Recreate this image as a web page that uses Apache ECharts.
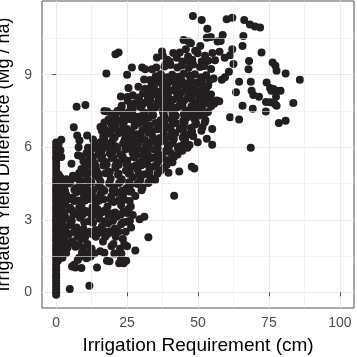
<!DOCTYPE html>
<html>
<head>
<meta charset="utf-8">
<script src="https://cdn.jsdelivr.net/npm/echarts@6/dist/echarts.min.js"></script>
<style>
  html, body { margin: 0; padding: 0; background: #fff; }
  #chart { width: 357px; height: 357px; }
</style>
</head>
<body>
<div id="chart"></div>
<script>
// tick breaks (ggplot style: major + minor)
const xBreaks = [0, 25, 50, 75, 100];
const xMinorBreaks = [12.5, 37.5, 62.5, 87.5];
const yBreaks = [0, 3, 6, 9];
const yMinorBreaks = [1.5, 4.5, 7.5, 10.5];

// fields with no irrigation requirement (x = 0)
const zeroIrrigationYield = [-0.1, 0.0, 0.12, 0.25, 0.38, 0.5, 0.62, 0.75, 0.9, 1.02, 1.15, 1.3,
  1.42, 1.55, 1.7, 1.82, 1.95, 2.1, 2.22, 2.35, 2.5, 2.62, 2.75, 2.9, 3.02, 3.15, 3.3, 3.42,
  3.55, 3.7, 3.82, 3.95, 4.1, 4.22, 4.35, 4.5, 4.62, 4.75, 4.9, 5.05, 5.2, 5.35, 5.5, 5.62,
  5.78, 5.9, 6.05, 6.2];

// [irrigation cm, yield diff Mg/ha]
const lowIrrigation = [
  [1.2, 1.5], [1.8, 2.0], [1.0, 2.4], [1.6, 2.8], [0.9, 3.2], [1.8, 3.5], [1.1, 3.9], [1.7, 4.2],
  [1.0, 4.5], [1.5, 4.75], [1.8, 5.6], [1.5, 5.87], [1.8, 6.31], [0.8, 6.1], [2.6, 1.7], [2.8, 2.5],
  [2.5, 3.3], [2.7, 3.8], [4.8, 0.14], [11.7, 0.27],
  [0.6, 1.3], [1.4, 1.92], [2.2, 2.28], [0.7, 2.68], [2.0, 3.02], [1.3, 3.45], [2.3, 3.95], [0.6, 4.28],
  [2.1, 4.46], [0.9, 4.86], [2.0, 2.7], [3.3, 2.55], [3.8, 1.95], [0.5, 3.75], [3.1, 3.62]
];

const mainCloud = [
  // y 1 - 2.5
  [2.2, 1.43], [4.0, 1.84], [6.3, 1.14], [6.8, 1.88], [8.1, 1.43], [9.8, 1.84], [5.6, 1.07], [6.8, 1.03],
  [8.9, 1.0], [7.6, 1.34], [10.7, 1.41], [12.1, 1.48], [14.4, 1.03], [17.9, 1.3], [18.8, 1.28],
  [22.2, 1.2], [23.8, 1.2], [24.7, 1.3], [22.9, 1.41], [27.9, 1.73], [32.5, 2.28],
  [3.0, 2.2], [4.5, 2.4], [5.5, 2.1], [7.5, 2.3], [9.0, 2.2], [11.0, 2.0], [12.5, 1.8], [14.0, 2.3],
  [15.5, 1.7], [16.5, 2.1], [18.0, 2.4], [19.5, 1.9], [21.0, 2.3], [22.5, 1.8], [23.5, 2.2],
  [24.5, 2.5], [25.0, 1.9], [20.5, 1.6], [13.5, 1.6], [10.0, 2.5],
  [3.5, 1.62], [9.1, 1.66], [11.3, 1.6], [17.0, 1.64], [23.0, 1.6],
  [2.9, 1.98], [6.2, 2.02], [8.0, 1.96], [10.2, 2.28], [17.3, 2.3], [20.2, 2.0], [24.0, 1.98],
  [3.6, 2.46], [6.3, 2.5], [8.6, 2.42], [12.8, 2.4], [15.0, 2.45], [16.9, 2.52], [20.0, 2.46], [22.0, 2.5],
  // y 2.5 - 3.5
  [2.5, 2.75], [3.6, 3.05], [4.9, 2.78], [6.1, 3.22], [7.2, 2.68], [8.4, 3.08], [9.6, 2.62], [10.4, 3.36],
  [11.7, 2.94], [12.6, 3.18], [13.9, 2.58], [15.2, 3.04], [16.1, 2.72], [17.2, 3.38], [18.3, 2.86],
  [19.4, 3.26], [20.7, 2.64], [21.3, 3.12], [22.9, 2.81], [23.7, 3.34], [24.9, 2.92], [25.6, 3.46],
  [26.4, 2.68], [29.4, 3.02], [31.1, 3.13], [5.3, 3.42], [14.6, 3.44], [8.1, 3.5], [18.9, 2.52],
  [11.9, 2.5], [3.0, 3.3],
  [2.0, 2.92], [5.5, 2.96], [9.9, 2.9], [13.0, 2.88], [17.2, 2.94], [20.0, 2.96], [23.6, 2.9], [26.0, 2.96],
  [7.4, 3.3], [9.4, 3.22], [11.5, 3.3], [13.9, 3.22], [16.0, 3.3], [18.5, 3.2], [20.8, 3.3], [22.8, 3.22],
  [25.0, 3.28], [27.0, 3.2],
  // y 3.5 - 4.5
  [2.3, 3.62], [4.9, 3.5], [6.4, 3.78], [8.9, 3.58], [10.2, 3.8], [12.8, 3.52], [14.0, 3.7], [16.7, 3.85],
  [18.1, 3.55], [20.2, 3.74], [22.9, 3.6], [24.0, 3.83], [26.3, 3.55],
  [3.5, 4.05], [5.8, 3.92], [7.3, 4.15], [9.8, 3.98], [11.3, 4.1], [13.2, 3.94], [15.6, 4.06], [17.0, 4.2],
  [19.4, 3.96], [21.2, 4.12], [23.5, 3.97], [25.4, 4.18], [27.9, 3.98], [41.6, 3.99],
  [2.7, 4.36], [4.4, 4.5], [6.9, 4.3], [8.3, 4.46], [10.6, 4.34], [12.4, 4.55], [14.9, 4.38], [16.2, 4.28],
  [18.7, 4.5], [20.5, 4.36], [22.2, 4.52], [24.8, 4.3], [26.1, 4.44], [28.6, 4.48], [30.4, 4.32], [32.5, 4.52],
  // y 4.5 - 5.5
  [3.6, 4.68], [5.9, 4.82], [7.2, 4.72], [9.6, 4.9], [11.1, 4.66], [13.7, 4.84], [15.0, 4.74], [17.4, 4.92],
  [19.2, 4.7], [21.8, 4.86], [23.1, 4.68], [25.6, 4.9], [27.0, 4.76], [29.7, 4.7], [31.2, 4.88], [33.4, 4.72],
  [34.9, 4.64],
  [8.9, 5.1], [10.4, 5.02], [12.9, 5.2], [14.2, 5.06], [16.6, 5.24], [18.4, 5.0], [20.9, 5.14], [22.1, 5.28],
  [24.6, 5.04], [26.4, 5.18], [28.7, 5.08], [30.1, 5.26], [32.9, 5.06], [34.5, 5.2], [36.8, 5.04], [38.1, 5.16],
  [43.4, 5.0],
  [5.4, 5.32], [9.6, 5.42], [11.8, 5.5], [13.4, 5.36], [15.9, 5.52], [17.2, 5.4], [19.6, 5.56], [21.5, 5.38],
  [23.8, 5.5], [25.1, 5.44], [27.7, 5.58], [29.4, 5.36], [31.6, 5.48], [33.3, 5.54], [35.9, 5.4], [37.1, 5.52],
  [39.4, 5.46], [41.0, 5.38], [47.8, 5.19], [48.7, 5.12],
  // y 5.5 - 6.5
  [7.7, 5.67], [10.7, 5.76], [12.1, 5.88], [14.9, 5.72], [16.2, 5.9], [18.9, 5.74], [20.1, 5.86], [22.6, 5.7],
  [24.4, 5.92], [26.9, 5.78], [28.1, 5.7], [30.6, 5.88], [32.3, 5.74], [34.8, 5.9], [36.0, 5.72], [38.6, 5.84],
  [40.4, 5.76], [42.8, 5.7], [44.5, 5.86],
  [7.9, 6.0], [13.4, 6.1], [15.7, 6.22], [17.0, 6.06], [19.5, 6.2], [21.0, 6.04], [23.6, 6.16], [25.0, 6.26],
  [27.4, 6.08], [29.1, 6.2], [31.5, 6.02], [33.0, 6.18], [35.6, 6.1], [37.0, 6.24], [39.4, 6.06], [41.1, 6.18],
  [43.6, 6.04], [45.2, 6.2], [47.0, 6.09], [49.9, 6.21], [55.0, 6.1],
  [7.4, 6.49], [8.2, 6.28], [10.9, 6.49], [16.6, 6.44], [18.1, 6.56], [20.6, 6.4], [22.0, 6.58], [24.5, 6.46],
  [26.0, 6.36], [28.6, 6.54], [30.0, 6.42], [32.5, 6.6], [34.0, 6.44], [36.6, 6.38], [38.0, 6.56], [40.5, 6.44],
  [42.0, 6.58], [44.6, 6.4], [46.1, 6.52], [48.3, 6.46], [53.1, 6.35],
  // y 6.5 - 7.5
  [6.2, 6.83], [15.6, 6.84], [17.1, 6.74], [19.6, 6.92], [21.0, 6.8], [23.5, 6.96], [25.0, 6.76], [27.6, 6.88],
  [29.0, 6.98], [31.5, 6.78], [33.0, 6.9], [35.6, 6.74], [37.0, 6.94], [39.5, 6.82], [41.0, 6.96], [43.6, 6.78],
  [45.0, 6.9], [47.5, 6.8], [49.0, 6.94], [51.6, 6.84], [55.0, 6.76],
  [18.4, 7.14], [20.9, 7.24], [22.3, 7.1], [24.8, 7.3], [26.2, 7.16], [28.8, 7.26], [30.2, 7.08], [32.7, 7.22],
  [34.2, 7.32], [36.8, 7.12], [38.2, 7.26], [40.7, 7.16], [42.2, 7.3], [44.8, 7.1], [46.2, 7.24], [48.7, 7.18],
  [50.2, 7.3], [52.6, 7.12],
  [17.0, 7.5], [18.0, 7.48], [21.6, 7.5], [23.0, 7.62], [25.6, 7.46], [27.0, 7.58], [29.6, 7.66], [31.0, 7.44],
  [33.5, 7.56], [35.0, 7.64], [37.6, 7.48], [39.0, 7.6], [41.5, 7.5], [43.0, 7.66], [45.6, 7.52], [47.0, 7.44],
  [49.5, 7.6], [51.0, 7.54], [53.5, 7.46],
  // y 7.5 - 8.5
  [7.2, 7.68], [10.3, 7.75], [25.2, 7.92], [27.7, 7.82], [29.2, 7.98], [31.7, 7.86], [33.2, 7.96], [35.7, 7.84],
  [37.2, 8.0], [39.7, 7.88], [41.2, 7.96], [43.7, 7.82], [45.2, 7.94], [47.7, 8.0], [49.2, 7.86], [51.7, 7.92],
  [53.2, 7.84], [54.3, 7.97], [55.7, 7.8], [56.6, 7.93], [57.5, 7.9],
  [22.8, 8.1], [27.0, 8.15], [30.6, 8.22], [32.2, 8.32], [34.6, 8.18], [36.2, 8.3], [38.6, 8.2], [40.2, 8.34],
  [42.6, 8.22], [44.2, 8.28], [46.6, 8.36], [48.2, 8.2], [50.6, 8.3], [52.2, 8.24], [54.6, 8.18],
  [25.5, 8.45], [29.0, 8.5], [33.6, 8.58], [35.2, 8.66], [37.6, 8.54], [39.2, 8.62], [41.6, 8.7], [43.2, 8.56],
  [45.6, 8.64], [47.2, 8.52], [49.6, 8.68], [51.2, 8.6], [53.6, 8.55],
  // y 8.5 - 9.5
  [31.0, 8.8], [35.1, 8.94], [36.9, 9.02], [39.1, 8.9], [40.9, 9.0], [43.1, 8.92], [44.9, 9.04], [47.1, 8.96],
  [48.9, 9.02], [51.1, 8.9], [52.9, 8.98], [55.5, 8.84], [58.4, 8.79], [59.5, 8.9],
  [17.7, 9.05], [25.0, 9.0], [26.7, 9.3], [30.3, 9.3], [31.4, 9.23], [33.8, 9.23], [35.3, 9.3], [38.2, 9.34],
  [40.3, 9.4], [42.7, 9.3], [44.3, 9.38], [46.7, 9.28], [48.3, 9.42], [50.7, 9.32], [52.3, 9.36], [54.6, 9.24],
  [60.9, 9.12]
];

// points filling the densest part of the cloud
const denseCore = [
  [4.2, 3.84], [7.7, 3.8], [11.8, 3.86], [15.0, 3.79], [19.2, 3.85], [22.1, 3.81], [25.9, 3.78],
  [3.1, 4.2], [6.4, 4.24], [9.2, 4.18], [13.1, 4.23], [16.0, 4.17], [19.9, 4.22], [23.2, 4.2], [26.5, 4.16], [30.1, 4.22],
  [5.0, 4.56], [8.8, 4.6], [11.7, 4.54], [15.6, 4.58], [18.8, 4.53], [22.8, 4.6], [25.7, 4.55], [29.5, 4.58], [32.6, 4.56],
  [8.1, 4.93], [11.8, 4.95], [14.9, 4.9], [18.9, 4.96], [22.0, 4.9], [26.0, 4.95], [29.1, 4.9], [32.8, 4.94], [35.7, 4.9], [39.6, 4.95],
  [10.6, 5.28], [13.8, 5.24], [17.8, 5.3], [20.9, 5.25], [24.9, 5.29], [28.0, 5.24], [32.1, 5.3], [35.2, 5.25], [39.0, 5.28],
  [9.0, 5.62], [13.0, 5.6], [16.2, 5.64], [20.1, 5.58], [23.4, 5.63], [27.3, 5.6], [30.4, 5.64], [34.4, 5.58], [37.5, 5.62], [41.5, 5.6],
  [11.2, 5.98], [14.4, 5.95], [18.4, 6.0], [21.5, 5.96], [25.5, 6.0], [28.7, 5.95], [32.6, 5.99], [35.8, 5.96], [39.7, 6.0], [42.9, 5.96], [46.3, 5.98],
  [13.0, 6.32], [17.0, 6.3], [20.1, 6.34], [24.1, 6.3], [27.3, 6.34], [31.3, 6.3], [34.4, 6.33], [38.4, 6.3], [41.5, 6.34], [45.5, 6.3],
  [16.1, 6.68], [19.3, 6.66], [23.3, 6.7], [26.5, 6.65], [30.4, 6.7], [33.6, 6.66], [37.6, 6.7], [40.7, 6.65], [44.7, 6.7], [47.9, 6.66], [51.2, 6.68],
  [17.0, 7.02], [20.7, 7.0], [23.9, 7.04], [27.9, 7.0], [31.1, 7.04], [35.0, 7.0], [38.2, 7.03], [42.2, 7.0], [45.3, 7.04], [49.3, 7.0], [52.4, 7.03],
  [19.6, 7.38], [23.6, 7.36], [26.8, 7.4], [30.7, 7.36], [33.9, 7.4], [37.9, 7.36], [41.0, 7.39], [45.0, 7.36], [48.2, 7.4], [52.2, 7.36],
  [23.1, 7.72], [26.3, 7.7], [30.3, 7.74], [33.4, 7.7], [37.4, 7.73], [40.6, 7.7], [44.5, 7.74], [47.7, 7.7], [51.7, 7.73], [54.6, 7.7],
  [25.1, 8.08], [29.1, 8.06], [32.3, 8.1], [36.2, 8.06], [39.4, 8.1], [43.4, 8.06], [46.5, 8.09], [50.5, 8.06], [53.4, 8.1],
  [31.4, 8.42], [34.6, 8.4], [38.6, 8.44], [41.7, 8.4], [45.7, 8.43], [48.9, 8.4], [52.8, 8.42],
  [33.1, 8.78], [37.1, 8.76], [40.3, 8.8], [44.2, 8.76], [47.4, 8.8], [51.4, 8.76], [54.2, 8.78]
];

const highYield = [
  [20.9, 9.85], [22.0, 9.92], [35.5, 9.71], [37.6, 9.78], [37.3, 9.96], [40.0, 9.55], [42.5, 9.7],
  [44.5, 9.55], [46.5, 9.75], [49.0, 9.99], [49.9, 9.89], [52.5, 9.78], [56.0, 9.6], [62.5, 9.44],
  [61.3, 9.81], [62.1, 10.05], [50.8, 10.19], [44.9, 10.44], [46.7, 10.37], [53.1, 10.53], [54.5, 10.56],
  [56.9, 10.37], [58.0, 10.4], [58.7, 10.64], [65.7, 10.19], [66.0, 10.6], [47.5, 10.3],
  [39.2, 9.62], [41.3, 9.9], [43.6, 9.92], [45.7, 10.05], [48.0, 9.62], [51.3, 9.55], [53.6, 9.58],
  [55.1, 9.9], [57.6, 9.95], [59.4, 9.7], [38.6, 9.45], [47.0, 9.5],
  [48.2, 11.43], [51.3, 11.26], [53.3, 10.9], [60.1, 11.3], [62.1, 11.36], [66.3, 11.26], [68.3, 11.08],
  [70.1, 11.0], [71.9, 10.95]
];

const highIrrigation = [
  [61.3, 7.24], [64.5, 7.15], [65.7, 7.72], [69.3, 7.59], [64.5, 8.71], [63.4, 8.27], [68.6, 8.71],
  [68.9, 8.34], [69.5, 8.16], [71.5, 8.09], [67.8, 9.23], [68.0, 9.57], [72.4, 9.92], [74.2, 8.68],
  [75.4, 8.45], [75.9, 8.34], [76.6, 8.41], [77.7, 8.34], [79.1, 8.34], [76.3, 9.51], [77.3, 9.37],
  [77.7, 9.16], [80.9, 9.05], [85.9, 8.79], [74.0, 7.87], [75.4, 7.86], [77.1, 7.79], [77.7, 7.72],
  [73.9, 7.48], [77.5, 8.09], [83.6, 7.83], [78.5, 7.0], [80.9, 7.1], [68.6, 5.98]
];

const allPoints = zeroIrrigationYield.map(y => [0, y])
  .concat(lowIrrigation, mainCloud, denseCore, highYield, highIrrigation);

const gridColor = "#EBEBEB";
const fontFamily = "Liberation Sans, Arial, sans-serif";

const chart = echarts.init(document.getElementById("chart"));

const minorLines = xMinorBreaks.map(v => ({ xAxis: v }))
  .concat(yMinorBreaks.map(v => ({ yAxis: v })));

chart.setOption({
  animation: false,
  grid: {
    left: 42, right: 3, top: 1, bottom: 49,
    outerBoundsMode: "none",
    containLabel: false,
    show: true, borderColor: "#555", borderWidth: 1, backgroundColor: "#fff"
  },
  xAxis: {
    type: "value",
    min: -5, max: 105,
    name: "Irrigation Requirement (cm)",
    nameLocation: "middle",
    nameGap: 28,
    nameTextStyle: { fontSize: 19, color: "#000", fontFamily: fontFamily },
    axisLine: { show: false },
    axisTick: { show: true, length: 4, customValues: xBreaks, lineStyle: { color: "#555" } },
    axisLabel: { customValues: xBreaks, margin: 8, fontSize: 14, color: "#4D4D4D", fontFamily: fontFamily },
    splitLine: { show: true, lineStyle: { color: gridColor, width: 1.1 } }
  },
  yAxis: {
    type: "value",
    min: -0.65, max: 12.05,
    name: "Irrigated Yield Difference (Mg / ha)",
    nameLocation: "middle",
    nameGap: 20,
    nameTextStyle: { fontSize: 18, color: "#000", fontFamily: fontFamily },
    axisLine: { show: false },
    axisTick: { show: true, length: 4, customValues: yBreaks, lineStyle: { color: "#555" } },
    axisLabel: { customValues: yBreaks, margin: 10, fontSize: 14, color: "#4D4D4D", fontFamily: fontFamily },
    splitLine: { show: true, lineStyle: { color: gridColor, width: 1.1 } }
  },
  series: [
    {
      // minor grid lines
      type: "scatter",
      data: [],
      z: 1,
      markLine: {
        silent: true,
        symbol: "none",
        label: { show: false },
        lineStyle: { color: gridColor, width: 0.6, type: "solid" },
        data: minorLines
      }
    },
    {
      type: "scatter",
      z: 3,
      symbolSize: 8,
      itemStyle: { color: "#231F20", opacity: 1 },
      data: allPoints
    }
  ]
});
</script>
</body>
</html>
